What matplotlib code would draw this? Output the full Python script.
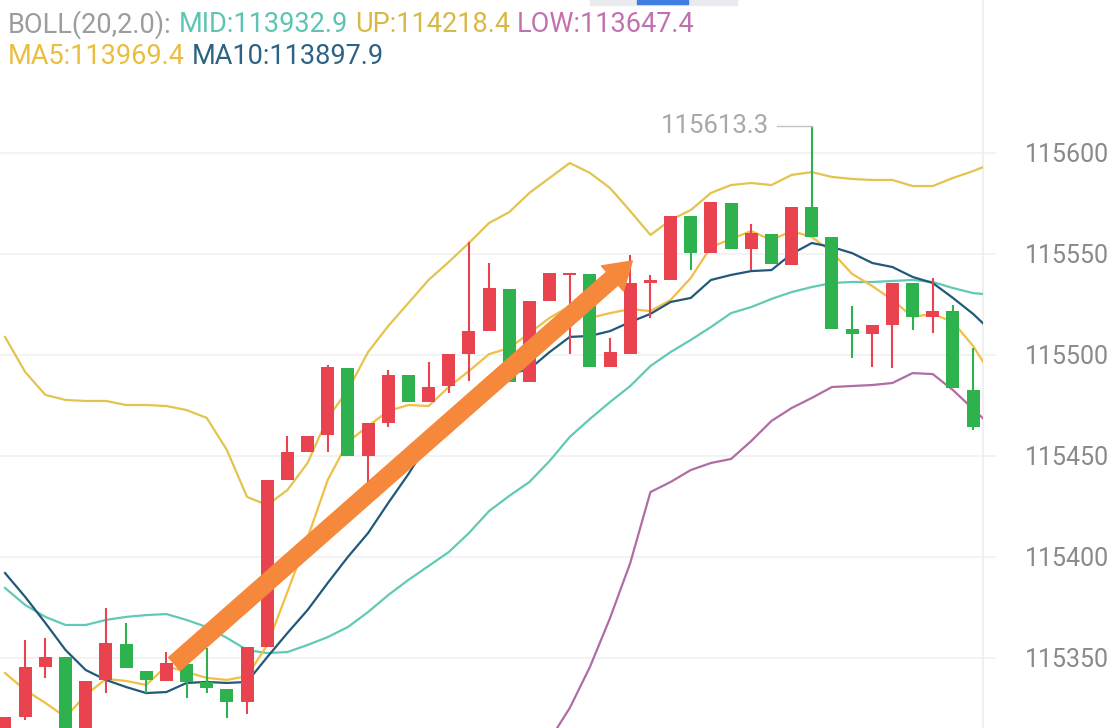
import matplotlib.pyplot as plt
from matplotlib.patches import FancyArrowPatch, Rectangle
from matplotlib.transforms import IdentityTransform
import numpy as np

plt.rcParams['font.family'] = ['Roboto', 'DejaVu Sans']

# K线 (红涨绿跌)
opens = [115308.0, 115320.5, 115345.3, 115350.2, 115306.7, 115338.9, 115356.7, 115343.3, 115338.4, 115346.8,
         115337.9, 115334.4, 115328.0, 115355.2, 115437.9, 115451.7, 115460.1, 115493.3, 115449.8, 115466.1,
         115489.9, 115476.5, 115484.4, 115500.2, 115511.6, 115532.4, 115486.4, 115526.5, 115539.3, 115539.9,
         115493.8, 115500.2, 115535.4, 115536.9, 115568.6, 115550.2, 115575.0, 115552.2, 115559.7, 115544.3,
         115573.0, 115558.2, 115512.6, 115510.1, 115514.6, 115535.4, 115518.6, 115521.5, 115482.4]
highs = [115320.5, 115358.7, 115359.7, 115350.2, 115338.4, 115374.5, 115367.1, 115343.3, 115352.7, 115346.8,
         115354.7, 115334.4, 115355.2, 115437.9, 115459.7, 115459.7, 115494.8, 115493.3, 115466.1, 115492.3,
         115489.9, 115496.3, 115500.2, 115555.7, 115545.3, 115532.4, 115526.5, 115540.3, 115540.3, 115539.9,
         115508.2, 115549.3, 115539.4, 115568.6, 115568.6, 115575.5, 115575.0, 115564.6, 115559.7, 115573.0,
         115613.3, 115558.2, 115524.0, 115514.6, 115535.4, 115535.4, 115537.9, 115524.5, 115503.2]
lows = [115305.0, 115319.0, 115339.9, 115304.0, 115303.0, 115332.4, 115344.8, 115332.4, 115338.4, 115330.0,
        115332.4, 115320.1, 115322.0, 115355.2, 115437.9, 115451.7, 115451.7, 115449.8, 115434.4, 115464.1,
        115476.5, 115476.5, 115480.9, 115486.9, 115511.6, 115486.4, 115486.4, 115526.5, 115500.2, 115493.8,
        115493.8, 115500.2, 115518.1, 115536.9, 115541.8, 115550.2, 115552.2, 115541.8, 115544.8, 115544.3,
        115558.2, 115512.6, 115498.3, 115493.8, 115493.3, 115512.1, 115510.6, 115483.4, 115462.6]
closes = [115320.5, 115345.3, 115350.2, 115306.7, 115338.4, 115357.2, 115344.8, 115338.9, 115347.3, 115337.9,
          115334.9, 115328.0, 115355.2, 115437.9, 115451.7, 115459.7, 115493.8, 115449.8, 115466.1, 115489.9,
          115476.5, 115483.9, 115500.2, 115511.6, 115532.9, 115486.4, 115526.5, 115540.3, 115540.3, 115493.8,
          115501.2, 115535.4, 115536.9, 115568.6, 115550.2, 115575.5, 115552.2, 115560.1, 115544.8, 115573.0,
          115558.2, 115512.6, 115510.1, 115514.6, 115535.4, 115518.6, 115521.5, 115483.4, 115464.1]

# 布林带和均线
boll_up = [115508.7, 115491.3, 115480.0, 115477.5, 115477.0, 115477.0, 115475.0, 115475.0, 115474.5, 115472.5,
           115468.6, 115452.7, 115429.5, 115425.5, 115432.9, 115446.3, 115468.6, 115482.4, 115501.2, 115514.1,
           115525.5, 115536.9, 115545.8, 115555.2, 115565.1, 115570.5, 115580.0, 115587.4, 115594.8, 115589.9,
           115582.4, 115571.0, 115559.2, 115566.6, 115571.5, 115580.0, 115583.9, 115584.9, 115583.9, 115588.9,
           115590.3, 115587.9, 115586.9, 115586.4, 115586.4, 115583.4, 115583.4, 115587.4, 115590.8, 115594.8]
boll_mid = [115384.4, 115376.0, 115370.1, 115366.1, 115366.1, 115368.6, 115370.1, 115371.0, 115371.5, 115368.6,
            115365.1, 115359.7, 115353.7, 115352.2, 115352.7, 115356.2, 115360.1, 115365.1, 115372.5, 115380.9,
            115388.4, 115395.3, 115402.2, 115411.6, 115422.5, 115430.0, 115436.9, 115447.3, 115459.2, 115468.1,
            115476.5, 115484.4, 115494.3, 115501.2, 115507.2, 115513.6, 115520.5, 115523.5, 115527.5, 115530.9,
            115533.4, 115535.4, 115535.9, 115535.9, 115536.4, 115536.9, 115535.9, 115532.9, 115530.4, 115529.5]
boll_low = [115260.2, 115260.6, 115260.2, 115254.7, 115255.2, 115260.2, 115265.1, 115267.1, 115268.6, 115264.6,
            115261.6, 115266.6, 115278.0, 115279.0, 115272.5, 115266.1, 115251.7, 115247.8, 115243.8, 115247.8,
            115251.2, 115253.7, 115258.7, 115268.1, 115280.0, 115289.4, 115293.8, 115309.2, 115325.0, 115345.3,
            115369.6, 115396.8, 115431.9, 115436.9, 115442.8, 115446.3, 115448.3, 115457.2, 115467.1, 115473.5,
            115478.5, 115483.9, 115484.4, 115484.9, 115485.9, 115490.8, 115490.3, 115482.4, 115473.0, 115463.6]
ma5 = [115342.3, 115333.9, 115327.5, 115320.5, 115331.4, 115339.4, 115338.4, 115336.4, 115345.8, 115342.8,
       115339.9, 115338.9, 115340.8, 115356.2, 115382.4, 115409.2, 115437.9, 115456.7, 115464.6, 115472.0,
       115475.0, 115474.5, 115483.9, 115491.8, 115500.2, 115503.2, 115510.6, 115518.1, 115524.0, 115518.1,
       115520.5, 115522.5, 115521.5, 115527.0, 115537.9, 115553.2, 115557.2, 115561.1, 115556.7, 115561.1,
       115558.2, 115550.7, 115539.9, 115533.9, 115527.0, 115518.6, 115520.1, 115516.1, 115504.2, 115488.4]
ma10 = [115391.8, 115380.0, 115367.1, 115353.7, 115343.8, 115338.9, 115335.4, 115332.4, 115332.9, 115337.4,
        115337.9, 115337.4, 115337.9, 115350.2, 115362.1, 115373.5, 115386.9, 115399.8, 115411.6, 115426.5,
        115440.8, 115456.7, 115471.0, 115478.5, 115486.9, 115490.3, 115492.8, 115501.2, 115508.7, 115509.2,
        115511.6, 115516.1, 115520.1, 115526.0, 115528.0, 115536.9, 115539.4, 115541.3, 115541.8, 115549.8,
        115555.2, 115553.2, 115550.2, 115545.3, 115543.3, 115538.4, 115535.4, 115528.0, 115520.1, 115510.6]

y_ticks = [115350, 115400, 115450, 115500, 115550, 115600]

legend_rows = [
    [("BOLL(20,2.0):", "#9c9c9c"), ("MID:113932.9", "#5ec4b2"),
     ("UP:114218.4", "#d8b945"), ("LOW:113647.4", "#c271b0")],
    [("MA5:113969.4", "#ebbd3e"), ("MA10:113897.9", "#2c6384")],
]

# 箭头 (K线序号, 价格)
arrow_start = (8.4, 115346.8)
arrow_end = (31.1, 115546.3)

RED = "#e8434f"
GREEN = "#2eb24e"

fig = plt.figure(figsize=(11.2, 7.28), dpi=100)
ax = fig.add_axes([0, 0, 983 / 1120, 1])
ax.set_xlim(-0.25, 48.49)
ax.set_ylim(115315.1, 115675.5)

# 网格和坐标轴
ax.set_yticks(y_ticks)
ax.set_yticklabels([str(t) for t in y_ticks])
ax.set_xticks([])
ax.yaxis.tick_right()
ax.grid(axis="y", color="#f1f1f1", lw=1.2, zorder=0)
ax.tick_params(axis="y", length=9, width=1.2, color="#f1f1f1", pad=21,
               labelsize=18, labelcolor="#8a8a8a")
for side in ["top", "left", "bottom"]:
    ax.spines[side].set_visible(False)
ax.spines["right"].set_color("#eeeeee")
ax.spines["right"].set_linewidth(1.2)

# 线
xl = np.arange(len(boll_up))
ax.plot(xl, boll_up, color="#e2c44f", lw=1.6, zorder=3)
ax.plot(xl, boll_mid, color="#62c9b6", lw=1.6, zorder=3)
ax.plot(xl, boll_low, color="#b06da2", lw=1.6, zorder=3)
ax.plot(xl, ma5, color="#f0bf45", lw=1.6, zorder=3)
ax.plot(xl, ma10, color="#215a79", lw=1.6, zorder=3)

# K线
x = np.arange(len(opens))
o = np.array(opens)
c = np.array(closes)
colors = [RED if cc >= oo else GREEN for oo, cc in zip(o, c)]
ax.vlines(x, lows, highs, colors=colors, lw=1.5, zorder=4)
bottoms = np.minimum(o, c)
heights = np.maximum(np.abs(c - o), 0.8)
ax.bar(x, heights, bottom=bottoms, width=0.64, color=colors, zorder=5)

# 最高价标注
imax = int(np.argmax(highs))
hmax = highs[imax]
ax.plot([imax - 1.7, imax], [hmax, hmax], color="#c4c4c4", lw=1, zorder=4)
ax.text(imax - 2.1, hmax, f"{hmax:.1f}", ha="right", va="center",
        fontsize=18.5, color="#a8a8a8")

# 橙色箭头
arrow = FancyArrowPatch(arrow_start, arrow_end,
                        arrowstyle="simple,head_length=19,head_width=24,tail_width=12.5",
                        mutation_scale=1, color="#f5883b", shrinkA=0, shrinkB=0, zorder=6)
ax.add_patch(arrow)

# 顶部图例文字
renderer = fig.canvas.get_renderer()
row_y = [703, 671]
for row, yy in zip(legend_rows, row_y):
    xx = 8
    for s, col in row:
        t = fig.text(xx, yy, s, color=col, fontsize=19.5, va="center", ha="left",
                     transform=IdentityTransform())
        xx = t.get_window_extent(renderer).x1 + 7

# 顶部小控件
fig.patches.append(Rectangle((590 / 1120, 723 / 728), 147 / 1120, 5 / 728,
                             transform=fig.transFigure, color="#e9ebef", zorder=10))
fig.patches.append(Rectangle((637 / 1120, 724 / 728), 51 / 1120, 4 / 728,
                             transform=fig.transFigure, color="#3f7de0", zorder=11))

fig.savefig("out.png", dpi=100)
